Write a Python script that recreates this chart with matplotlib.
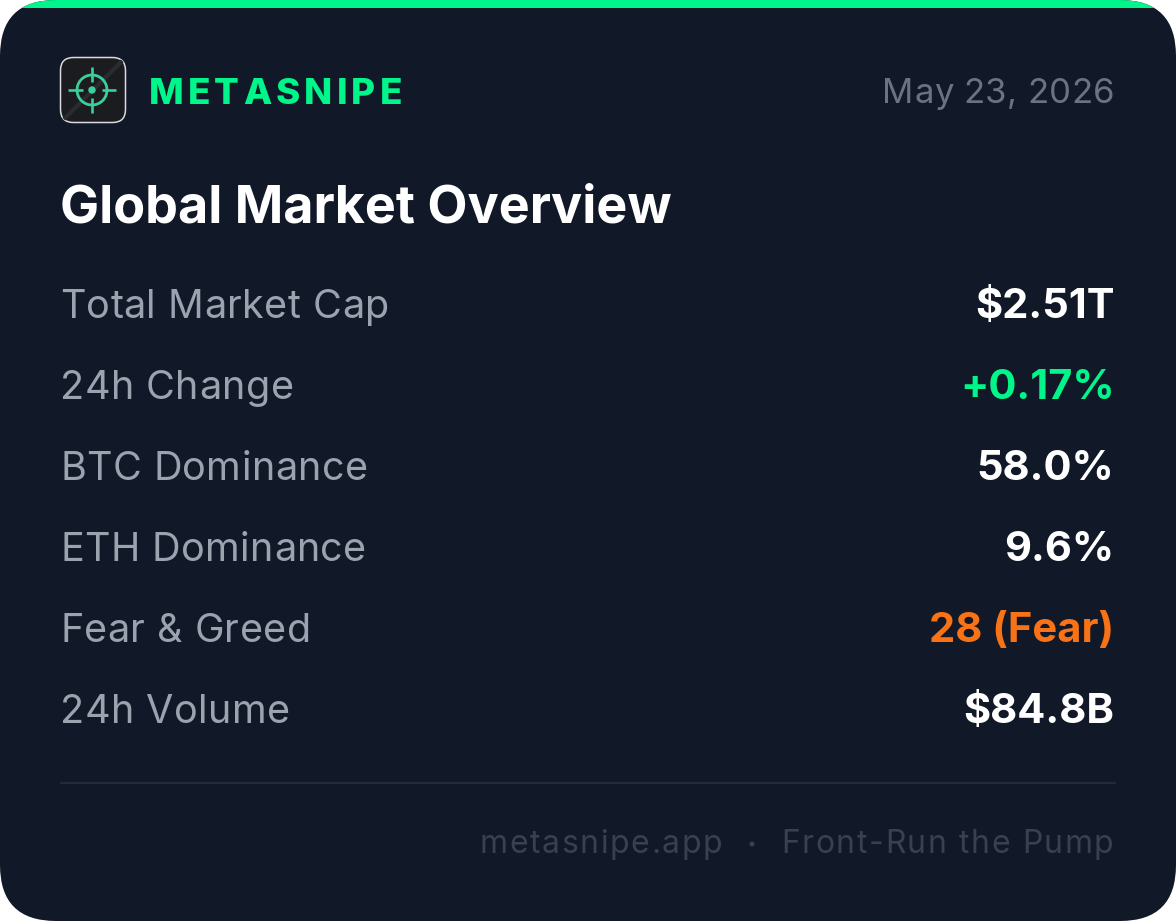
import matplotlib
matplotlib.use('Agg')
import matplotlib.pyplot as plt
from matplotlib.patches import FancyBboxPatch, Rectangle, Circle
from matplotlib.textpath import TextPath
from matplotlib.font_manager import FontProperties

plt.rcParams['font.family'] = ['Inter', 'DejaVu Sans']

brand = "METASNIPE"
date_text = "May 23, 2026"
title = "Global Market Overview"
row_labels = ["Total Market Cap", "24h Change", "BTC Dominance", "ETH Dominance", "Fear & Greed", "24h Volume"]
row_values = ["$2.51T", "+0.17%", "58.0%", "9.6%", "28 (Fear)", "$84.8B"]
footer_left = "metasnipe.app"
footer_right = "Front-Run the Pump"

BG = '#111827'
GREEN = '#00F58A'
ORANGE = '#F97316'
LOGO = '#3BCF9B'
value_colors = ['white', GREEN, 'white', 'white', ORANGE, 'white']

fig = plt.figure(figsize=(11.76, 9.21), dpi=100, facecolor='white')
ax = fig.add_axes([0, 0, 1, 1])
ax.set_xlim(0, 1176)
ax.set_ylim(921, 0)
ax.axis('off')


# advance of a string in pixels, the bar keeps trailing spaces and kerning counted
def advance(s, fp):
    with_bar = TextPath((0, 0), s + '|', prop=fp).vertices[:, 0].max()
    bar = TextPath((0, 0), '|', prop=fp).vertices[:, 0].max()
    return (with_bar - bar) / 0.72


# text with letter spacing, drawn one glyph at a time
def spaced(x, y, s, size, color, weight='normal', gap=0.0, right=False):
    fp = FontProperties(family='Inter', weight=weight, size=size)
    if right:
        x = x - advance(s, fp) - gap * (len(s) - 1)
    for i, ch in enumerate(s):
        ax.text(x + advance(s[:i], fp) + gap * i, y, ch, color=color, fontproperties=fp,
                ha='left', va='baseline')


# card
card = FancyBboxPatch((0, 0), 1176, 921, boxstyle='round,pad=0,rounding_size=56',
                      fc=BG, ec='none', zorder=0)
ax.add_patch(card)
strip = Rectangle((0, 0), 1176, 8.5, fc=GREEN, ec='none', zorder=1)
ax.add_patch(strip)
strip.set_clip_path(card)

# logo
icon = FancyBboxPatch((60.5, 57.5), 65, 65, boxstyle='round,pad=0,rounding_size=13',
                      fc='#1B1C1F', ec='#D8DADC', lw=1.1, zorder=2)
ax.add_patch(icon)
streak, = ax.plot([64, 122], [119, 61], color='#2A2B2F', lw=3, zorder=2.5)
streak.set_clip_path(icon)
ax.add_patch(Circle((92, 90), 15, fc='none', ec=LOGO, lw=2.0, zorder=3))
ax.add_patch(Circle((92, 90), 3.7, fc=LOGO, ec='none', zorder=3))
for xs, ys in [([92, 92], [66.7, 81.7]), ([92, 92], [98.5, 113.5]),
               ([68.3, 83], [90, 90]), ([101.5, 116], [90, 90])]:
    ax.plot(xs, ys, color=LOGO, lw=1.9, zorder=3, solid_capstyle='butt')

# header
spaced(148.5, 103.5, brand, 26.5, GREEN, weight=800, gap=4.2)
spaced(1114, 103, date_text, 25, '#6B7280', gap=0.3, right=True)
ax.text(60.5, 222, title, fontsize=37.5, color='white', fontweight='bold', ha='left', va='baseline')

# rows
for i, (lab, val) in enumerate(zip(row_labels, row_values)):
    y = 317.5 + i * 81
    spaced(60, y, lab, 28.5, '#9CA3AF', gap=0.45)
    ax.text(1114.5, y + 0.5, val, fontsize=30, color=value_colors[i], fontweight='bold', ha='right', va='baseline')

# divider and footer
ax.plot([60, 1116], [783, 783], color='#242B38', lw=1.6, zorder=2, solid_capstyle='butt')
spaced(480, 853, footer_left, 23, '#374151', gap=1.6)
ax.add_patch(Circle((752, 844), 2.5, fc='#374151', ec='none', zorder=3))
spaced(1113.5, 853, footer_right, 23, '#374151', gap=1.6, right=True)

fig.savefig('out.png', dpi=100, facecolor='white')
